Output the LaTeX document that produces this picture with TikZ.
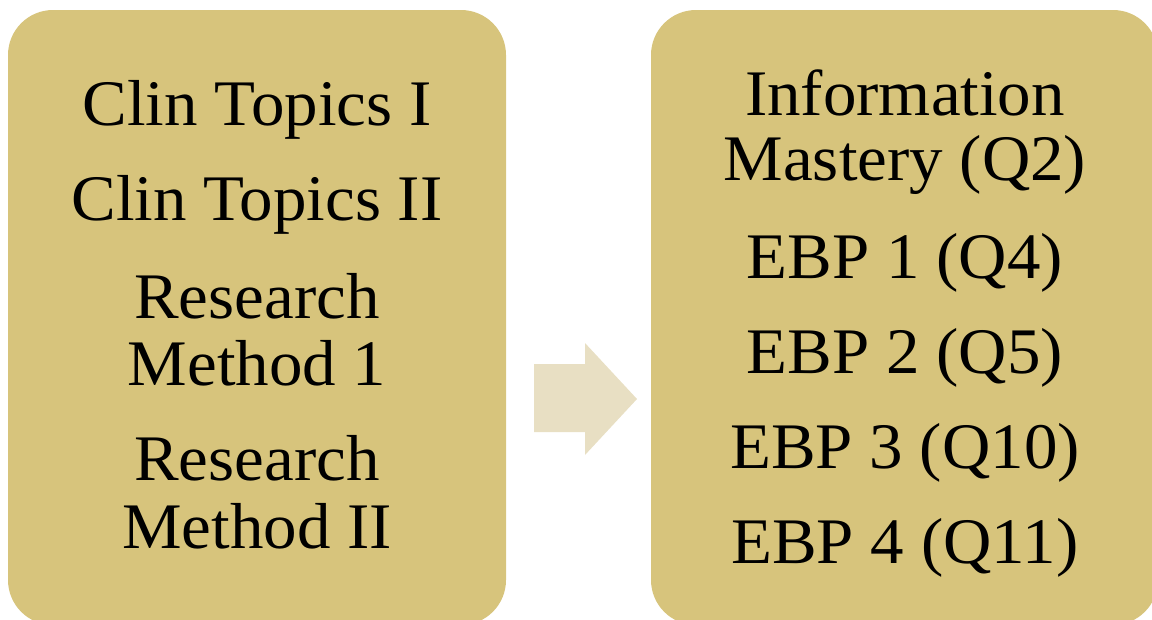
\documentclass[tikz,border=0pt]{standalone}
\usepackage{fontspec}
\setmainfont[FakeStretch=1.03]{Liberation Serif}
\definecolor{boxgold}{HTML}{D7C47C}
\definecolor{arrowtan}{HTML}{E8DFC3}
\tikzset{
  panel/.style={fill=boxgold, draw=none, rounded corners=45pt},
  txt/.style={anchor=base, inner sep=0pt, font=\fontsize{65}{72}\selectfont, text=black},
}
\begin{document}
\begin{tikzpicture}[x=1pt,y=-1pt]
\useasboundingbox (0,0) rectangle (1152,619);
\begin{scope}
\clip (0,0) rectangle (1152,619);
\fill[panel] (8,10) rectangle (506,625);
\fill[panel] (651,10) rectangle (1158,625);
\end{scope}
\fill[arrowtan] (534,364) -- (585,364) -- (585,343) -- (637,399) -- (585,455) -- (585,432) -- (534,432) -- cycle;
% left
\node[txt] (l1) at (257,125) {Clin Topics I};
\node[txt] (l2) at (257,220) {Clin Topics II};
\node[txt] (l3) at (257,318) {Research};
\node[txt] (l4) at (257,385) {Method 1};
\node[txt] (l5) at (257,480) {Research};
\node[txt] (l6) at (257,548) {Method II};
% right
\node[txt] (r1) at (905,115) {Information};
\node[txt] (r2) at (905,180) {Mastery (Q2)};
\node[txt] (r3) at (905,278) {EBP 1 (Q4)};
\node[txt] (r4) at (905,373) {EBP 2 (Q5)};
\node[txt] (r5) at (905,468) {EBP 3 (Q10)};
\node[txt] (r6) at (905,563) {EBP 4 (Q11)};
\end{tikzpicture}
\end{document}
